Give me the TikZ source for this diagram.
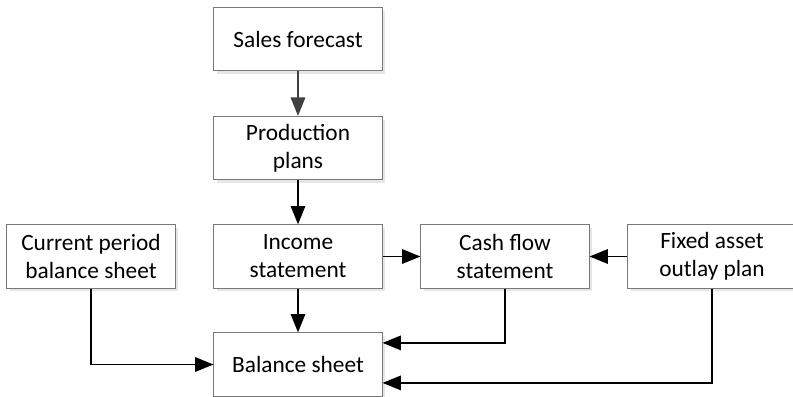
\documentclass[tikz,border=0pt]{standalone}
\usepackage{fontspec}
\setmainfont{Carlito}
\usetikzlibrary{arrows.meta,positioning,calc,shadows}
\definecolor{boxline}{RGB}{120,120,120}
\definecolor{shadowcolor}{RGB}{230,230,230}
\definecolor{greyarrow}{RGB}{64,64,64}

\begin{document}
\begin{tikzpicture}[
    x=0.025cm, y=-0.025cm,
    box/.style={rectangle, draw=boxline, line width=0.7pt, fill=white, minimum width=4.2cm, minimum height=1.58cm, align=center, inner sep=0pt, font=\fontsize{16.6}{20}\selectfont,
        drop shadow={shadow xshift=0.08cm, shadow yshift=-0.08cm, fill=shadowcolor, opacity=1}},
    arrow/.style={-{Triangle[length=0.46cm, width=0.36cm]}, line width=1.4pt}
]
\useasboundingbox (0,0) rectangle (793,396);

% Top chain
\node[box] (sales) at (298, 39) {Sales forecast};
\node[box] (prod) at (298, 148) {Production\\plans};

% Middle row
\node[box] (cur) at (91, 256.5) {Current period\\balance sheet};
\node[box] (inc) at (298, 256.5) {Income\\statement};
\node[box] (cash) at (505, 256.5) {Cash flow\\statement};
\node[box] (fixed) at (712, 256.5) {Fixed asset\\outlay plan};

% Result
\node[box] (bal) at (298, 364.5) {Balance sheet};

% Arrows
\draw[arrow, greyarrow] (sales) -- (prod);
\draw[arrow] (prod) -- (inc);
\draw[arrow] (inc) -- (bal);
\draw[arrow] (inc) -- (cash);
\draw[arrow] (fixed) -- (cash);
\draw[arrow] (cur.south) |- (bal.west);
\draw[arrow] (cash.south) |- ([yshift=0.54cm]bal.east);
\draw[arrow] (fixed.south) |- ([yshift=-0.46cm]bal.east);

\end{tikzpicture}
\end{document}
